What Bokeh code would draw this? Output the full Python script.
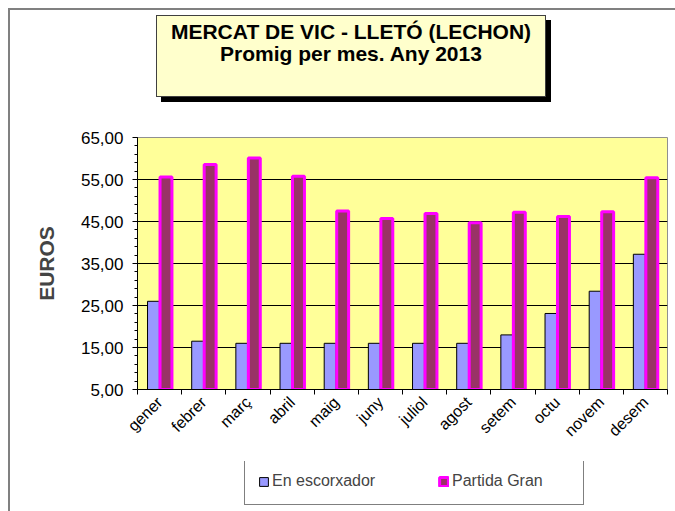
from math import pi
from bokeh.plotting import figure
from bokeh.layouts import column
from bokeh.models import (Legend, LegendItem, FixedTicker, Range1d,
                          ColumnDataSource, Div)
from bokeh.embed import file_html
from bokeh.resources import INLINE

months = ["gener", "febrer", "març", "abril", "maig", "juny", "juliol",
          "agost", "setem", "octu", "novem", "desem"]
escorxador = [26.0, 16.5, 16.0, 16.0, 16.0, 16.0, 16.0, 16.0, 18.0, 23.1, 28.4, 37.2]
partida = [55.6, 58.6, 60.1, 55.8, 47.5, 45.7, 46.9, 44.7, 47.2, 46.2, 47.3, 55.4]
y_ticks = [5, 15, 25, 35, 45, 55, 65]
y_tick_labels = ["5,00", "15,00", "25,00", "35,00", "45,00", "55,00", "65,00"]
grid_values = [15, 25, 35, 45, 55]
title_line1 = "MERCAT DE VIC - LLETÓ (LECHON)"
title_line2 = "Promig per mes. Any 2013"
series_names = ["En escorxador", "Partida Gran"]

FONT = "Liberation Sans"
n = len(months)
centers = [i + 0.5 for i in range(n)]
src = ColumnDataSource(dict(
    x1=[c - 0.138 for c in centers], x2=[c + 0.145 for c in centers],
    esc=escorxador, par=partida))

BLUE = dict(fill_color="#9999FF", line_color="black", line_width=1)
PINK = dict(fill_color="#993366", line_color="#FF00FF", line_width=3)

p = figure(output_backend="svg", toolbar_location=None,
           x_range=Range1d(0, n), y_range=Range1d(5, 65),
           frame_width=530, frame_height=252,
           min_border_left=127, min_border_top=27, min_border_right=8,
           min_border_bottom=72, margin=0)
p.background_fill_color = "#FFFF99"
p.border_fill_color = "white"
p.outline_line_color = "#909090"
p.outline_line_width = 1

p.vbar(x="x1", top="esc", bottom=5, width=0.27, source=src, **BLUE)
p.vbar(x="x2", top="par", bottom=5, width=0.27, source=src, **PINK)

# y axis
yax = p.yaxis[0]
yax.ticker = FixedTicker(ticks=y_ticks,
                         minor_ticks=[v for v in range(5, 66, 2)])
yax.major_label_overrides = {t: l for t, l in zip(y_ticks, y_tick_labels)}
yax.major_label_text_font = FONT
yax.major_label_text_font_size = "17px"
yax.major_label_text_color = "black"
yax.major_label_standoff = 9
yax.axis_line_color = "black"
yax.major_tick_line_color = "black"
yax.minor_tick_line_color = "black"
yax.major_tick_out = 5
yax.major_tick_in = 0
yax.minor_tick_out = 3
yax.minor_tick_in = 0
yax.axis_label = "EUROS"
yax.axis_label_text_font = FONT
yax.axis_label_text_font_size = "21px"
yax.axis_label_text_font_style = "bold"
yax.axis_label_standoff = 20

# x axis: labels at centres, ticks between categories
xax = p.xaxis[0]
xax.ticker = FixedTicker(ticks=centers, minor_ticks=list(range(n + 1)))
xax.major_label_overrides = {c: m for c, m in zip(centers, months)}
xax.major_label_orientation = pi / 4
xax.major_label_text_font = FONT
xax.major_label_text_font_size = "16px"
xax.major_label_text_color = "black"
xax.major_tick_line_color = None
xax.minor_tick_line_color = "black"
xax.minor_tick_out = 5
xax.minor_tick_in = 0
xax.axis_line_color = "black"
xax.major_label_standoff = 4

p.xgrid.grid_line_color = None
p.ygrid.grid_line_color = "black"
p.ygrid.ticker = FixedTicker(ticks=grid_values)

# legend strip: a small figure below the chart
pl = figure(output_backend="svg", toolbar_location=None,
            x_range=Range1d(0, n), y_range=Range1d(5, 65),
            x_axis_type=None, y_axis_type=None,
            width=665, height=50, min_border=0, margin=0)
pl.outline_line_color = None
pl.grid.visible = False
lr1 = pl.vbar(x="x1", top="esc", bottom=5, width=0.27, source=src,
              visible=False, **BLUE)
lr2 = pl.vbar(x="x2", top="par", bottom=5, width=0.27, source=src,
              visible=False, **PINK)
legend = Legend(items=[LegendItem(label=series_names[0], renderers=[lr1]),
                       LegendItem(label=series_names[1], renderers=[lr2])],
                orientation="horizontal", location=(107, 6),
                click_policy="none",
                border_line_color="black", border_line_width=1,
                background_fill_color="white", background_fill_alpha=1,
                label_text_font=FONT, label_text_font_size="16px",
                glyph_width=11, glyph_height=11, label_standoff=3,
                label_width=118, label_height=20,
                spacing=48, padding=13, margin=0)
pl.add_layout(legend, "center")

title_html = (
    '<div style="margin-left:146px; margin-top:5px; width:390px; height:82px; '
    'box-sizing:border-box; background:#FFFFCC; border:1px solid #404040; '
    'box-shadow:5px 5px 0 #000; font-family:\'Liberation Sans\', Arial, sans-serif; '
    'font-weight:bold; font-size:21px; line-height:22px; text-align:center; '
    'padding-top:5px; color:black; white-space:nowrap;">'
    f'{title_line1}<br>{title_line2}</div>'
)
title_div = Div(text=title_html, width=665, height=100, margin=0)

layout = column(title_div, p, pl, margin=(8, 0, 0, 8), spacing=0,
                styles={"border-left": "2px solid #808080",
                        "border-top": "2px solid #808080"})

open("out.html", "w").write(file_html(layout, INLINE))
